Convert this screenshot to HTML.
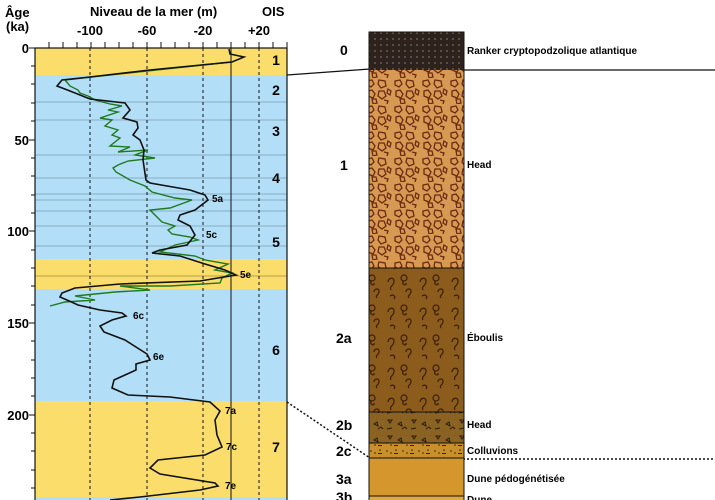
<!DOCTYPE html>
<html><head><meta charset="utf-8"><style>
body{margin:0;background:#fff;}
svg{display:block;font-family:"Liberation Sans",Arial,sans-serif;font-weight:bold;}
</style></head><body>
<svg width="715" height="500" viewBox="0 0 715 500" xmlns="http://www.w3.org/2000/svg">
<defs>
<pattern id="p0" width="6" height="6" patternUnits="userSpaceOnUse"><rect width="6" height="6" fill="#2e231c"/><circle cx="3" cy="3" r="1" fill="#6a5a50"/></pattern>
<pattern id="p1" width="28" height="26" patternUnits="userSpaceOnUse"><rect width="28" height="26" fill="#d89a52"/>
<g fill="none" stroke="#6b2a10" stroke-width="1.3"><path d="M3 3l5-1 2 4-3 3-4-2z"/><path d="M15 2l6 1 1 5-5 2-3-4z"/><path d="M4 13l4-1 3 4-2 4-5-2z"/><path d="M15 13l5 0 2 5-4 3-4-3z"/><path d="M24 11l3 2-1 4-3-2z"/><path d="M8 21l4 0 1 4-4 1z"/><path d="M20 22l4 1-1 3"/></g></pattern>
<pattern id="p2" width="32" height="30" patternUnits="userSpaceOnUse"><rect width="32" height="30" fill="#8c5c1c"/>
<g fill="none" stroke="#3a1e08" stroke-width="1.2"><path d="M4 12c0-5 7-5 6 0s-5 4-3 8"/><circle cx="20" cy="8" r="3"/><path d="M19 11c-2 3 4 6 3 2"/><path d="M22 22c0-4 6-4 5 0s-4 3-2 6"/><path d="M6 26c3-2 6 0 4 3"/></g></pattern>
<pattern id="p2b" width="24" height="16" patternUnits="userSpaceOnUse"><rect width="24" height="16" fill="#8a6222"/>
<g fill="none" stroke="#2a1a08" stroke-width="1"><path d="M4 4l4 0-2 3z"/><path d="M14 8l3-2 1 4z"/><path d="M3 13l5-1"/><path d="M18 13l3-2 2 2"/></g></pattern>
<pattern id="p2c" width="16" height="8" patternUnits="userSpaceOnUse"><rect width="16" height="8" fill="#c8902c"/>
<g fill="#3a2008"><circle cx="3" cy="3" r="0.8"/><circle cx="7" cy="5" r="0.8"/><circle cx="12" cy="2" r="0.8"/><rect x="10" y="5" width="4" height="1"/></g></pattern>
</defs>

<!-- header -->
<text x="5" y="17" font-size="13">Âge</text>
<text x="6" y="31" font-size="13">(ka)</text>
<text x="90" y="16" font-size="13">Niveau de la mer (m)</text>
<text x="262" y="16" font-size="13">OIS</text>
<g font-size="13" text-anchor="middle"><text x="90" y="35">-100</text><text x="147" y="35">-60</text><text x="203" y="35">-20</text><text x="259" y="35">+20</text></g>

<!-- bands -->
<rect x="35" y="48" width="252" height="27" fill="#fbdd6c"/>
<rect x="35" y="75" width="252" height="184" fill="#b2dff7"/>
<rect x="35" y="259" width="252" height="30" fill="#fbdd6c"/>
<rect x="35" y="289" width="252" height="112" fill="#b2dff7"/>
<rect x="35" y="401" width="252" height="96" fill="#fbdd6c"/>
<rect x="35" y="497" width="252" height="3" fill="#b2dff7"/>
<g stroke="#7a9ab0" stroke-width="0.8">
<line x1="35" y1="102" x2="287" y2="102"/><line x1="35" y1="120" x2="287" y2="120"/><line x1="35" y1="155" x2="287" y2="155"/><line x1="35" y1="178" x2="287" y2="178"/><line x1="35" y1="194" x2="287" y2="194"/><line x1="35" y1="200" x2="287" y2="200"/><line x1="35" y1="211" x2="287" y2="211"/><line x1="35" y1="226" x2="287" y2="226"/><line x1="35" y1="246" x2="287" y2="246"/>
</g>
<line x1="35" y1="276" x2="287" y2="276" stroke="#a08a40" stroke-width="0.8"/>
<g stroke="#111" stroke-width="1" stroke-dasharray="3,3"><line x1="90" y1="48" x2="90" y2="500"/><line x1="147" y1="48" x2="147" y2="500"/><line x1="203" y1="48" x2="203" y2="500"/><line x1="259" y1="48" x2="259" y2="500"/></g>
<line x1="231" y1="48" x2="231" y2="500" stroke="#111" stroke-width="1"/>
<rect x="35" y="48" width="252" height="460" fill="none" stroke="#111" stroke-width="1.2"/>
<!-- top ticks -->
<g stroke="#111" stroke-width="1">
<line x1="49" y1="42" x2="49" y2="48"/><line x1="63" y1="42" x2="63" y2="48"/><line x1="77" y1="42" x2="77" y2="48"/><line x1="91" y1="42" x2="91" y2="48"/><line x1="105" y1="42" x2="105" y2="48"/><line x1="119" y1="42" x2="119" y2="48"/><line x1="133" y1="42" x2="133" y2="48"/><line x1="147" y1="42" x2="147" y2="48"/><line x1="161" y1="42" x2="161" y2="48"/><line x1="175" y1="42" x2="175" y2="48"/><line x1="189" y1="42" x2="189" y2="48"/><line x1="203" y1="42" x2="203" y2="48"/><line x1="217" y1="42" x2="217" y2="48"/><line x1="231" y1="42" x2="231" y2="48"/><line x1="245" y1="42" x2="245" y2="48"/><line x1="259" y1="42" x2="259" y2="48"/><line x1="273" y1="42" x2="273" y2="48"/><line x1="287" y1="42" x2="287" y2="48"/>
<line x1="29" y1="48" x2="35" y2="48"/><line x1="31" y1="66" x2="35" y2="66"/><line x1="31" y1="84" x2="35" y2="84"/><line x1="31" y1="103" x2="35" y2="103"/><line x1="31" y1="121" x2="35" y2="121"/><line x1="29" y1="140" x2="35" y2="140"/><line x1="31" y1="158" x2="35" y2="158"/><line x1="31" y1="176" x2="35" y2="176"/><line x1="31" y1="195" x2="35" y2="195"/><line x1="31" y1="213" x2="35" y2="213"/><line x1="29" y1="231" x2="35" y2="231"/><line x1="31" y1="250" x2="35" y2="250"/><line x1="31" y1="268" x2="35" y2="268"/><line x1="31" y1="286" x2="35" y2="286"/><line x1="31" y1="305" x2="35" y2="305"/><line x1="29" y1="323" x2="35" y2="323"/><line x1="31" y1="341" x2="35" y2="341"/><line x1="31" y1="360" x2="35" y2="360"/><line x1="31" y1="378" x2="35" y2="378"/><line x1="31" y1="396" x2="35" y2="396"/><line x1="29" y1="415" x2="35" y2="415"/><line x1="31" y1="433" x2="35" y2="433"/><line x1="31" y1="451" x2="35" y2="451"/><line x1="31" y1="470" x2="35" y2="470"/><line x1="31" y1="488" x2="35" y2="488"/>
</g>
<g font-size="13" text-anchor="end"><text x="29" y="53">0</text><text x="29" y="145">50</text><text x="29" y="236">100</text><text x="29" y="328">150</text><text x="29" y="420">200</text></g>

<!-- green curve -->
<path fill="none" stroke="#1f7a1f" stroke-width="1.4" d="M231 62 L100 76 L65 80 L70 86 L78 90 L80 93 L88 96 L95 100 L110 104 L122 106 L108 110 L118 112 L100 118 L112 120 L105 126 L118 130 L112 135 L120 138 L110 146 L130 147 L118 152 L148 150 L135 155 L155 158 L128 161 L118 165 L113 168 L116 172 L130 180 L145 186 L152 192 L175 198 L192 200 L170 208 L150 210 L158 218 L162 222 L175 226 L168 230 L172 234 L190 237 L198 240 L175 245 L160 252 L195 256 L205 260 L228 264 L215 270 L232 273 L222 278 L220 283 L170 286 L120 286 L150 290 L115 292 L75 296 L95 300 L65 302 L50 306"/>
<!-- black curve -->
<path fill="none" stroke="#111" stroke-width="1.6" d="M229 49 L230 54 L244 57 L232 62 L150 70 L90 77 L62 80 L57 86 L70 91 L90 99 L125 103 L130 110 L123 118 L137 122 L138 128 L133 135 L140 140 L144 150 L143 160 L146 180 L150 183 L190 190 L205 195 L208 200 L195 210 L180 215 L178 220 L190 226 L195 235 L187 245 L160 250 L152 253 L180 256 L205 264 L225 270 L236 275 L200 281 L120 284 L75 288 L62 293 L60 297 L67 300 L78 305 L100 310 L122 313 L126 316 L112 320 L100 326 L104 332 L125 340 L147 354 L150 360 L136 364 L136 370 L125 375 L114 380 L112 388 L128 395 L170 397 L210 402 L220 411 L215 420 L217 435 L222 447 L205 455 L158 460 L150 468 L160 474 L215 483 L218 486 L200 490 L140 497 L110 500"/>
<g font-size="10"><text x="212" y="202">5a</text><text x="206" y="238">5c</text><text x="240" y="278">5e</text><text x="133" y="319">6c</text><text x="153" y="360">6e</text><text x="225" y="414">7a</text><text x="226" y="450">7c</text><text x="225" y="489">7e</text></g>
<g font-size="14" text-anchor="middle"><text x="276" y="65">1</text><text x="276" y="95">2</text><text x="276" y="136">3</text><text x="276" y="183">4</text><text x="276" y="247">5</text><text x="276" y="355">6</text><text x="276" y="452">7</text></g>

<!-- connectors -->
<path d="M287 75 L370 69 M463 70 L715 70" stroke="#111" stroke-width="1.2" fill="none"/>
<path d="M287 402 L370 458 M463 459 L715 459" stroke="#111" stroke-width="1.5" stroke-dasharray="2,2" fill="none"/>

<!-- column -->
<rect x="369" y="32" width="95" height="38" fill="url(#p0)"/>
<rect x="369" y="70" width="95" height="198" fill="url(#p1)"/>
<rect x="369" y="268" width="95" height="144" fill="url(#p2)"/>
<rect x="369" y="412" width="95" height="31" fill="url(#p2b)"/>
<rect x="369" y="443" width="95" height="15" fill="url(#p2c)"/>
<rect x="369" y="458" width="95" height="38" fill="#d5962e"/>
<rect x="369" y="496" width="95" height="4" fill="#e0a840"/>
<g stroke="#111" stroke-width="1" fill="none"><rect x="369" y="32" width="95" height="470"/><line x1="369" y1="268" x2="464" y2="268"/><line x1="369" y1="412" x2="464" y2="412"/><line x1="369" y1="443" x2="464" y2="443"/><line x1="369" y1="458" x2="464" y2="458"/><line x1="369" y1="496" x2="464" y2="496"/></g>

<g font-size="14"><text x="340" y="55">0</text><text x="340" y="170">1</text><text x="336" y="343">2a</text><text x="336" y="430">2b</text><text x="336" y="456">2c</text><text x="336" y="484">3a</text><text x="336" y="502">3b</text></g>
<g font-size="10"><text x="467" y="54">Ranker cryptopodzolique atlantique</text><text x="467" y="168">Head</text><text x="467" y="341">Éboulis</text><text x="467" y="428">Head</text><text x="467" y="454">Colluvions</text><text x="467" y="482">Dune pédogénétisée</text><text x="467" y="503">Dune</text></g>
</svg>
</body></html>
